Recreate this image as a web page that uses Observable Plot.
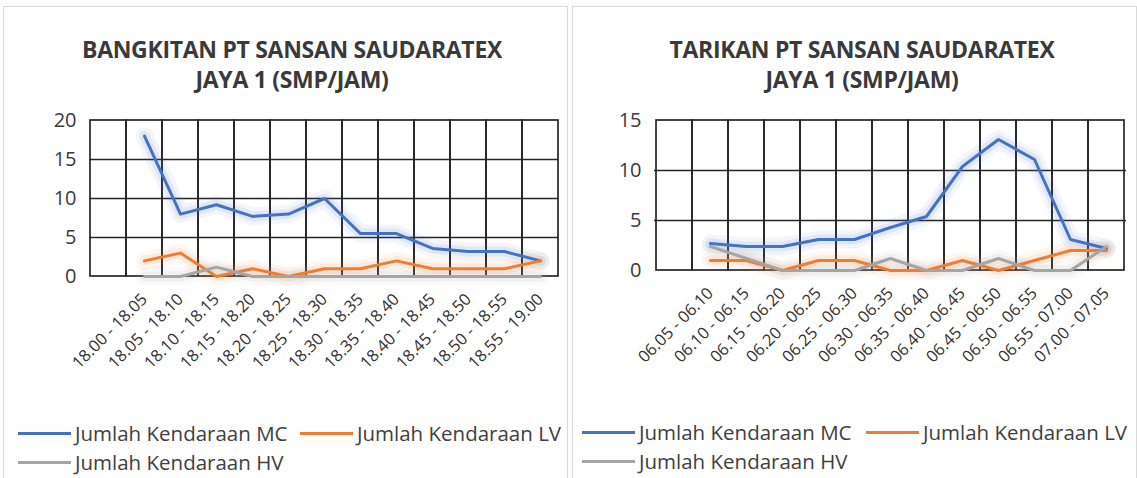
<!DOCTYPE html>
<html><head><meta charset="utf-8">
<script src="https://cdn.jsdelivr.net/npm/d3@7"></script>
<script src="https://cdn.jsdelivr.net/npm/@observablehq/plot@0.6"></script>
<style>
body{margin:0;background:#fff;width:1137px;height:478px;overflow:hidden;position:relative;font-family:"Open Sans",sans-serif;}
.panel{position:absolute;top:6px;height:478px;border:1px solid #d9d9d9;box-sizing:border-box;background:#fff}
.title{position:absolute;text-align:center;font-weight:bold;font-size:23px;color:#3a3a3a;line-height:30px;letter-spacing:-0.3px}
.chart{position:absolute;top:100px;}
.legend{position:absolute;left:0;top:0;width:1137px;height:478px;font-size:20.5px;color:#404040;}
.item{position:absolute;white-space:nowrap;display:flex;align-items:center;line-height:24px}
.sw{display:inline-block;flex:none;width:53px;height:3px;margin-right:4px;}
</style></head>
<body>
<div class="panel" style="left:3px;width:565px"></div>
<div class="panel" style="left:572px;width:565px"></div>
<div class="title" style="left:0;width:584px;top:34px">BANGKITAN PT SANSAN SAUDARATEX<br>JAYA 1 (SMP/JAM)</div>
<div class="title" style="left:572px;width:580px;top:34px">TARIKAN PT SANSAN SAUDARATEX<br>JAYA 1 (SMP/JAM)</div>
<div id="left" class="chart" style="left:0"></div>
<div id="right" class="chart" style="left:570px"></div>
<div id="legL" class="legend"></div>
<div id="legR" class="legend"></div>
<script>
const seriesNames = ["Jumlah Kendaraan MC", "Jumlah Kendaraan LV", "Jumlah Kendaraan HV"];
const seriesColors = ["#4472C4", "#ED7D31", "#A5A5A5"];

const labelsLeft = ["18.00 - 18.05","18.05 - 18.10","18.10 - 18.15","18.15 - 18.20","18.20 - 18.25","18.25 - 18.30","18.30 - 18.35","18.35 - 18.40","18.40 - 18.45","18.45 - 18.50","18.50 - 18.55","18.55 - 19.00"];
const mcLeft = [18, 8, 9.2, 7.7, 8, 10, 5.5, 5.5, 3.6, 3.2, 3.2, 2];
const lvLeft = [2, 3, 0, 1, 0, 1, 1, 2, 1, 1, 1, 2];
const hvLeft = [0, 0, 1.2, 0, 0, 0, 0, 0, 0, 0, 0, 0];

const labelsRight = ["06.05 - 06.10","06.10 - 06.15","06.15 - 06.20","06.20 - 06.25","06.25 - 06.30","06.30 - 06.35","06.35 - 06.40","06.40 - 06.45","06.45 - 06.50","06.50 - 06.55","06.55 - 07.00","07.00 - 07.05"];
const mcRight = [2.7, 2.4, 2.4, 3.1, 3.1, 4.3, 5.4, 10.4, 13.1, 11.1, 3.1, 2.2];
const lvRight = [1, 1, 0, 1, 1, 0, 0, 1, 0, 1, 2, 2];
const hvRight = [2.4, 1.2, 0, 0, 0, 1.2, 0, 0, 1.2, 0, 0, 2.4];

const yTicksLeft = [0, 5, 10, 15, 20];
const yTicksRight = [0, 5, 10, 15];

function makeChart(labels, series, yTicks, m) {
  const blank = " ";
  const cats = [blank, ...labels];
  const rows = [];
  series.forEach((vals, s) => vals.forEach((v, i) => rows.push({cat: labels[i], v, s: seriesNames[s]})));
  const yMax = yTicks[yTicks.length - 1];
  const marks = [
    Plot.cell(cats, {x: d => d, fill: "none", stroke: "#262626", strokeWidth: 1.7}),
    Plot.ruleY(yTicks.slice(1, -1), {stroke: "#262626", strokeWidth: 1.7}),
  ];
  seriesNames.forEach((name, s) => {
    const data = rows.filter(r => r.s === name);
    marks.push(Plot.line(data, {x: "cat", y: "v", stroke: seriesColors[s], strokeWidth: 18, strokeOpacity: 0.07}));
    marks.push(Plot.line(data, {x: "cat", y: "v", stroke: seriesColors[s], strokeWidth: 10, strokeOpacity: 0.1}));
  });
  seriesNames.forEach((name, s) => {
    const data = rows.filter(r => r.s === name);
    marks.push(Plot.line(data, {x: "cat", y: "v", stroke: seriesColors[s], strokeWidth: 3}));
  });
  const svg = Plot.plot({
    width: 567, height: 290,
    marginLeft: m.left, marginRight: m.right, marginTop: m.top, marginBottom: m.bottom,
    style: {fontFamily: "'Open Sans', sans-serif", color: "#404040", background: "transparent"},
    x: {type: "band", domain: cats, padding: 0, tickSize: 0, tickPadding: 20, tickRotate: -45, tickFormat: d => d, label: null},
    y: {domain: [0, yMax], ticks: yTicks, tickSize: 0, tickPadding: 13, label: null},
    marks
  });
  svg.querySelectorAll('g[aria-label="x-axis tick label"] text, g[aria-label="x-axis"] text').forEach(t => {t.style.fontSize = "16.5px"; t.style.fill = "#333";});
  svg.querySelectorAll('g[aria-label="y-axis tick label"] text, g[aria-label="y-axis"] text').forEach(t => {t.style.fontSize = "20px"; t.style.fill = "#3a3a3a";});
  return svg;
}

document.getElementById("left").appendChild(
  makeChart(labelsLeft, [mcLeft, lvLeft, hvLeft], yTicksLeft, {left: 89, right: 9, top: 20, bottom: 114}));
document.getElementById("right").appendChild(
  makeChart(labelsRight, [mcRight, lvRight, hvRight], yTicksRight, {left: 84, right: 11, top: 20, bottom: 120}));

function legend(el, positions) {
  seriesNames.forEach((name, s) => {
    const d = document.createElement("div");
    d.className = "item";
    d.style.left = (positions[s][0]) + "px";
    d.style.top = (positions[s][1]) + "px";
    d.innerHTML = '<span class="sw" style="background:' + seriesColors[s] + '"></span>' + name;
    el.appendChild(d);
  });
}
legend(document.getElementById("legL"), [[18, 421], [300, 421], [18, 450]]);
legend(document.getElementById("legR"), [[582, 420], [866, 420], [582, 449]]);
</script>
</body></html>
